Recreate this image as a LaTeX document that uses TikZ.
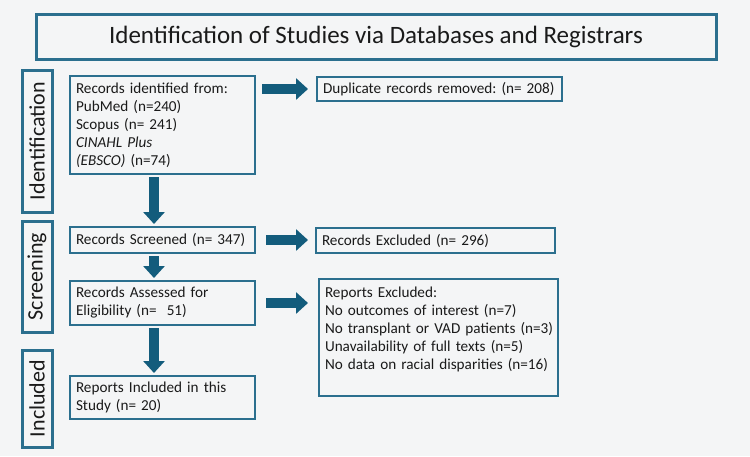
\documentclass[tikz,border=0pt]{standalone}
\usepackage{fontspec}
\setmainfont{Carlito}
\usepackage{tikz}
\usetikzlibrary{arrows.meta,positioning,calc}
\definecolor{bordeAzul}{HTML}{2B6F8E}
\definecolor{flechaAzul}{HTML}{135C7C}
\definecolor{fondoGris}{HTML}{F4F5F6}
\definecolor{textoNegro}{HTML}{1A1A1A}
\frenchspacing

\begin{document}
\begin{tikzpicture}[x=1pt, y=-1pt,
    caja/.style={draw=bordeAzul, line width=2pt, anchor=north west, align=left, inner xsep=6pt, inner ysep=0pt, text=textoNegro, font=\fontsize{15.2}{18}\selectfont},
    fase/.style={draw=bordeAzul, line width=3pt, rotate=90, inner sep=0pt, minimum height=30pt, text=textoNegro, font=\fontsize{22}{24}\selectfont},
    titulo/.style={draw=bordeAzul, line width=3pt, inner sep=0pt, minimum width=680pt, minimum height=45pt, text=textoNegro, font=\fontsize{25}{28}\selectfont},
    flecha/.style={draw=flechaAzul, line width=10pt, -{Triangle[length=12pt, width=21pt]}, shorten <=2pt, shorten >=2pt}
  ]
  % fondo
  \fill[fondoGris] (0,0) rectangle (750,456);

  % titulo y fases
  \node[titulo] (tit) at (376,36.5) {Identification of Studies via Databases and Registrars};
  \node[fase, minimum width=142pt] (fid) at (37,141) {Identification};
  \node[fase, minimum width=111pt] (fsc) at (37,276.5) {Screening};
  \node[fase, minimum width=97pt] (fin) at (37,398.5) {Included};

  % columna izquierda
  \node[caja, text width=173pt, minimum height=98pt] (recid) at (69,75) {Records identified from:\\ PubMed (n=240)\\ Scopus (n= 241)\\ \textit{CINAHL Plus}\\ \textit{(EBSCO)} (n=74)};
  \node[caja, text width=173pt, minimum height=26pt] (scr) at (69,226) {\mbox{Records Screened (n= 347)}};
  \node[caja, text width=173pt, minimum height=44pt] (asm) at (69,280) {Records Assessed for\\ Eligibility (n=\ \ 51)};
  \node[caja, text width=173pt, minimum height=43pt] (inc) at (69,375) {Reports Included in this\\ Study (n= 20)};

  % columna derecha
  \node[caja, text width=233pt, minimum height=24pt] (dup) at (316,76) {\mbox{Duplicate records removed: (n= 208)}};
  \node[caja, text width=227pt, minimum height=25pt] (exc) at (315,227) {Records Excluded (n= 296)};
  \node[caja, text width=227pt, text height=18pt, text depth=99pt] (rep) at (318,278) {Reports Excluded:\\ \mbox{No outcomes of interest (n=7)}\\ \mbox{No transplant or VAD patients (n=3)}\\ \mbox{Unavailability of full texts (n=5)}\\ \mbox{No data on racial disparities (n=16)}};

  % flechas
  \draw[flecha, shorten <=6pt, shorten >=8pt] (recid.east |- dup.west) -- (dup.west);
  \draw[flecha] ([xshift=-8.5pt]recid.south) -- ([xshift=-8.5pt]scr.north);
  \draw[flecha, shorten <=10pt, shorten >=7pt] (scr.east) -- (scr.east -| exc.west);
  \draw[flecha] ([xshift=-8.5pt]scr.south) -- ([xshift=-8.5pt]asm.north);
  \draw[flecha, shorten <=10pt, shorten >=10pt] (asm.east) -- (asm.east -| rep.west);
  \draw[flecha] ([xshift=-8.5pt]asm.south) -- ([xshift=-8.5pt]inc.north);
\end{tikzpicture}
\end{document}
